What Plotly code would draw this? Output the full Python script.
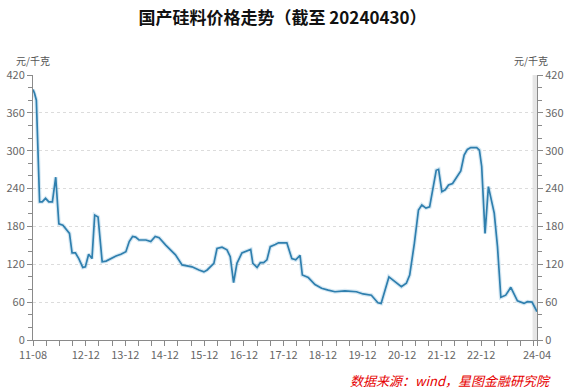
import plotly.graph_objects as go

# Domestic polysilicon price (元/千克)
dates = [
    "2011-08-01", "2011-08-15", "2011-09-01", "2011-10-01", "2011-10-25", "2011-11-25",
    "2011-12-25", "2012-01-27", "2012-02-27", "2012-03-27", "2012-05-03", "2012-06-03",
    "2012-07-03", "2012-07-27", "2012-08-27", "2012-09-27", "2012-11-03", "2012-11-27",
    "2012-12-27", "2013-01-27", "2013-02-21", "2013-03-24", "2013-05-01", "2013-06-06",
    "2013-07-06", "2013-08-06", "2013-09-06", "2013-10-21", "2013-12-06", "2014-01-06",
    "2014-02-06", "2014-03-06", "2014-04-06", "2014-06-09", "2014-07-24", "2014-09-03",
    "2014-10-09", "2014-12-09", "2015-03-09", "2015-05-09", "2015-08-09", "2015-10-12",
    "2015-11-27", "2015-12-27", "2016-02-27", "2016-03-27", "2016-05-12", "2016-06-27",
    "2016-07-27", "2016-08-27", "2016-09-27", "2016-11-12", "2017-02-01", "2017-02-21",
    "2017-04-01", "2017-05-01", "2017-06-01", "2017-07-01", "2017-08-01", "2017-09-16",
    "2017-10-16", "2018-01-01", "2018-02-16", "2018-03-24", "2018-05-03", "2018-05-24",
    "2018-07-18", "2018-09-18", "2018-11-18", "2019-01-18", "2019-03-21", "2019-06-21",
    "2019-10-06", "2019-12-06", "2020-02-21", "2020-04-21", "2020-05-21", "2020-08-01",
    "2020-09-24", "2020-11-24", "2021-01-09", "2021-02-09", "2021-03-24", "2021-05-01",
    "2021-06-01", "2021-07-09", "2021-08-12", "2021-09-12", "2021-10-12", "2021-11-03",
    "2021-12-03", "2022-01-03", "2022-02-03", "2022-03-12", "2022-04-27", "2022-05-27",
    "2022-06-27", "2022-07-27", "2022-08-27", "2022-10-21", "2022-11-15", "2022-12-06",
    "2023-01-06", "2023-02-06", "2023-04-01", "2023-05-01", "2023-06-01", "2023-07-16",
    "2023-09-01", "2023-11-01", "2024-01-01", "2024-02-01", "2024-03-15", "2024-04-30",
]
prices = [
    397, 391, 380, 219, 219, 224.5,
    219, 219, 258, 184, 182, 175,
    169, 138, 138, 129, 115, 116,
    136, 129, 198, 195, 124, 125,
    128, 130, 133, 136, 140, 156,
    164, 163, 158.5, 158.5, 156, 164,
    162, 150.5, 135, 119, 116, 111,
    108, 111, 121.5, 145, 147, 143,
    132, 91, 121.5, 138, 143.5, 121.5,
    115, 122.5, 122.5, 127, 148, 151.5,
    154, 154, 129, 127, 134, 103,
    99, 88, 82, 79, 76.5, 78,
    76.5, 73, 71, 59, 58, 100,
    92, 84.5, 90, 103, 153, 206,
    214, 209, 211, 243, 269, 270.5,
    235, 238, 245.6, 248, 259, 268,
    293, 302, 305, 305, 301, 275,
    169, 243, 201, 148, 67.6, 71,
    83.5, 62, 58, 60.7, 60, 45,
]

tick_dates = ["2011-08-01", "2012-12-01", "2013-12-01", "2014-12-01", "2015-12-01",
              "2016-12-01", "2017-12-01", "2018-12-01", "2019-12-01", "2020-12-01",
              "2021-12-01", "2022-12-01", "2024-04-30"]
tick_labels = ["11-08", "12-12", "13-12", "14-12", "15-12", "16-12", "17-12",
               "18-12", "19-12", "20-12", "21-12", "22-12", "24-04"]

title_text = "国产硅料价格走势（截至 20240430）"
unit_text = "元/千克"
source_text = "数据来源：wind，星图金融研究院"

font_cjk = "Noto Sans CJK SC, Noto Sans, sans-serif"
axis_color = "#8a8a8a"
tick_font = dict(family=font_cjk, size=11, color="#666666")

fig = go.Figure()
fig.add_trace(go.Scatter(
    x=dates, y=prices, mode="lines",
    line=dict(color="rgba(120,180,215,0.3)", width=4),
    hoverinfo="skip", showlegend=False,
))
fig.add_trace(go.Scatter(
    x=dates, y=prices, mode="lines",
    line=dict(color="#2f7fae", width=1.7),
    showlegend=False,
))
fig.add_trace(go.Scatter(
    x=dates, y=prices, yaxis="y2", mode="lines",
    line=dict(width=0, color="rgba(0,0,0,0)"), opacity=0,
    hoverinfo="skip", showlegend=False,
))

yaxis_common = dict(
    range=[0, 420], tick0=0, dtick=60, tickmode="linear",
    showline=True, linecolor=axis_color, linewidth=1,
    ticks="outside", ticklen=5, tickcolor=axis_color,
    tickfont=tick_font, zeroline=False, automargin=False,
    minor=dict(dtick=20, tick0=0, ticks="outside", ticklen=4, tickcolor=axis_color, showgrid=False),
)

fig.update_layout(
    width=565, height=392,
    margin=dict(l=33, r=28, t=75, b=52, autoexpand=False),
    paper_bgcolor="white", plot_bgcolor="white",
    title=dict(text="<b>" + title_text + "</b>", x=0.5, xref="container", xanchor="center",
               y=1 - 18 / 392, yref="container", yanchor="middle",
               font=dict(family=font_cjk, size=17, color="#111111")),
    xaxis=dict(
        type="date", range=["2011-08-01", "2024-04-30"],
        tickmode="array", tickvals=tick_dates, ticktext=tick_labels,
        showline=True, linecolor=axis_color, linewidth=1,
        ticks="outside", ticklen=5, tickcolor=axis_color,
        tickfont=tick_font, showgrid=False, zeroline=False, automargin=False,
        minor=dict(dtick="M4", tick0="2011-08-01", ticks="outside", ticklen=5,
                   tickcolor=axis_color, showgrid=False),
    ),
    yaxis=dict(**yaxis_common, showgrid=True, gridcolor="#dcdcdc", griddash="dot", gridwidth=1),
    yaxis2=dict(**yaxis_common, overlaying="y", side="right", showgrid=False),
    shapes=[dict(type="rect", xref="x", yref="paper", x0="2024-03-20", x1="2024-04-30",
                 y0=0, y1=1, fillcolor="rgba(200,200,200,0.45)", line=dict(width=0), layer="below")],
    annotations=[
        dict(text=unit_text, xref="paper", yref="paper", x=0.0, y=(340 - 60) / 265,
             xanchor="center", yanchor="middle", showarrow=False,
             font=dict(family=font_cjk, size=10, color="#555555")),
        dict(text=unit_text, xref="paper", yref="paper", x=(531 - 33) / 504, y=(340 - 60) / 265,
             xanchor="center", yanchor="middle", showarrow=False,
             font=dict(family=font_cjk, size=10, color="#555555")),
        dict(text="<i>" + source_text + "</i>", xref="paper", yref="paper",
             x=(553 - 33) / 504, y=(340 - 380) / 265,
             xanchor="right", yanchor="middle", showarrow=False,
             font=dict(family=font_cjk, size=13, color="#e60000")),
    ],
)

fig.write_html("out.html", config={"displayModeBar": False},
               post_script="document.body.style.margin='0';")
